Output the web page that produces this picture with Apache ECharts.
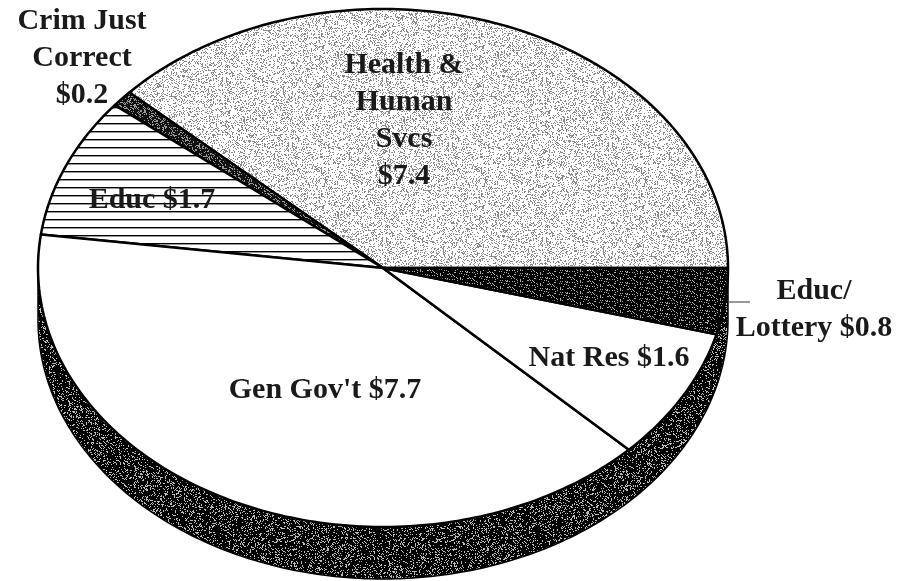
<!DOCTYPE html>
<html>
<head>
<meta charset="utf-8">
<style>
html, body { margin: 0; padding: 0; background: #fff; }
#chart { width: 911px; height: 581px; }
</style>
<script src="https://cdn.jsdelivr.net/npm/echarts@6/dist/echarts.min.js"></script>
</head>
<body>
<div id="chart"></div>
<script>
// budget by area, $ billions, going counter clockwise from 3 o'clock
var categories = ['Health & Human Svcs', 'Crim Just Correct', 'Educ', "Gen Gov't", 'Nat Res', 'Educ/Lottery'];
var values = [7.4, 0.2, 1.7, 7.7, 1.6, 0.8];
var labelTexts = ['Health &\nHuman\nSvcs\n$7.4', 'Crim Just\nCorrect\n$0.2', 'Educ $1.7', "Gen Gov't $7.7", 'Nat Res $1.6', 'Educ/\nLottery $0.8'];

// layout
var cx = 383, cy = 268, rx = 345, ry = 259, depth = 52;
var labelPos = [[404, 121], [82, 58], [152, 200], [325, 390], [609, 358], [814, 310]];
var FONT = '"Liberation Serif", "Times New Roman", serif';

// speckled fills, same look as the scanned halftone
function noise(density, ink, paper, seed) {
    var size = 160, c = document.createElement('canvas');
    c.width = c.height = size;
    var ctx = c.getContext('2d'), s = seed;
    ctx.fillStyle = paper;
    ctx.fillRect(0, 0, size, size);
    ctx.fillStyle = ink;
    for (var y = 0; y < size; y++) {
        for (var x = 0; x < size; x++) {
            s = (s * 1103515245 + 12345) % 2147483648;
            if (s / 2147483648 < density) ctx.fillRect(x, y, 1, 1);
        }
    }
    return {image: c, repeat: 'repeat'};
}

function hlines() {
    var c = document.createElement('canvas');
    c.width = 8; c.height = 8;
    var ctx = c.getContext('2d');
    ctx.fillStyle = '#fff';
    ctx.fillRect(0, 0, 8, 8);
    ctx.fillStyle = '#000';
    ctx.fillRect(0, 3, 8, 1);
    ctx.fillStyle = '#999';
    ctx.fillRect(0, 4, 8, 1);
    return {image: c, repeat: 'repeat'};
}

var fills = [
    noise(0.24, '#8a8a8a', '#fff', 11),
    noise(0.72, '#111', '#999', 23),
    hlines(),
    '#fff',
    '#fff',
    noise(0.86, '#000', '#aaa', 37)
];
var wallFill = noise(0.8, '#000', '#bbb', 51);

function pt(deg, dy) {
    var t = deg * Math.PI / 180;
    return [cx + rx * Math.cos(t), cy - ry * Math.sin(t) + (dy || 0)];
}

function arc(from, to, dy) {
    var pts = [], n = Math.max(2, Math.ceil(Math.abs(to - from)));
    for (var i = 0; i <= n; i++) pts.push(pt(from + (to - from) * i / n, dy));
    return pts;
}

var total = values.reduce(function (a, b) { return a + b; }, 0);
var starts = [];
values.reduce(function (a, b) { starts.push(a); return a + b; }, 0);

var option = {
    backgroundColor: '#fff',
    animation: false,
    series: [
        {
            // front wall of the disc
            type: 'custom',
            coordinateSystem: 'none',
            silent: true,
            data: [[0]],
            renderItem: function () {
                var pts = arc(180, 360, 0).concat(arc(360, 180, depth));
                return {
                    type: 'polygon',
                    shape: {points: pts},
                    style: {fill: wallFill, stroke: '#000', lineWidth: 1.5}
                };
            }
        },
        {
            type: 'custom',
            coordinateSystem: 'none',
            silent: true,
            data: values.map(function (v, i) { return {name: categories[i], value: [v, starts[i]]}; }),
            renderItem: function (params, api) {
                var a0 = api.value(1) / total * 360;
                var a1 = (api.value(1) + api.value(0)) / total * 360;
                var pts = [[cx, cy]].concat(arc(a0, a1, 0));
                return {
                    type: 'polygon',
                    shape: {points: pts},
                    style: {fill: fills[params.dataIndex], stroke: '#000', lineWidth: 2.5, lineJoin: 'round'}
                };
            }
        },
        {
            type: 'custom',
            coordinateSystem: 'none',
            silent: true,
            data: labelTexts.map(function (t, i) { return {name: categories[i], value: [i]}; }),
            renderItem: function (params) {
                var i = params.dataIndex, p = labelPos[i];
                return {
                    type: 'text',
                    x: p[0],
                    y: p[1],
                    style: {
                        text: labelTexts[i],
                        font: 'bold 30px ' + FONT,
                        lineHeight: 37,
                        fill: '#1a1a1a',
                        align: 'center',
                        verticalAlign: 'middle'
                    }
                };
            }
        }
    ],
    graphic: [{
        type: 'line',
        silent: true,
        shape: {x1: 729, y1: 302, x2: 750, y2: 302},
        style: {stroke: '#333', lineWidth: 1}
    }]
};

var chart = echarts.init(document.getElementById('chart'), null, {renderer: 'canvas'});
chart.setOption(option);
</script>
</body>
</html>
